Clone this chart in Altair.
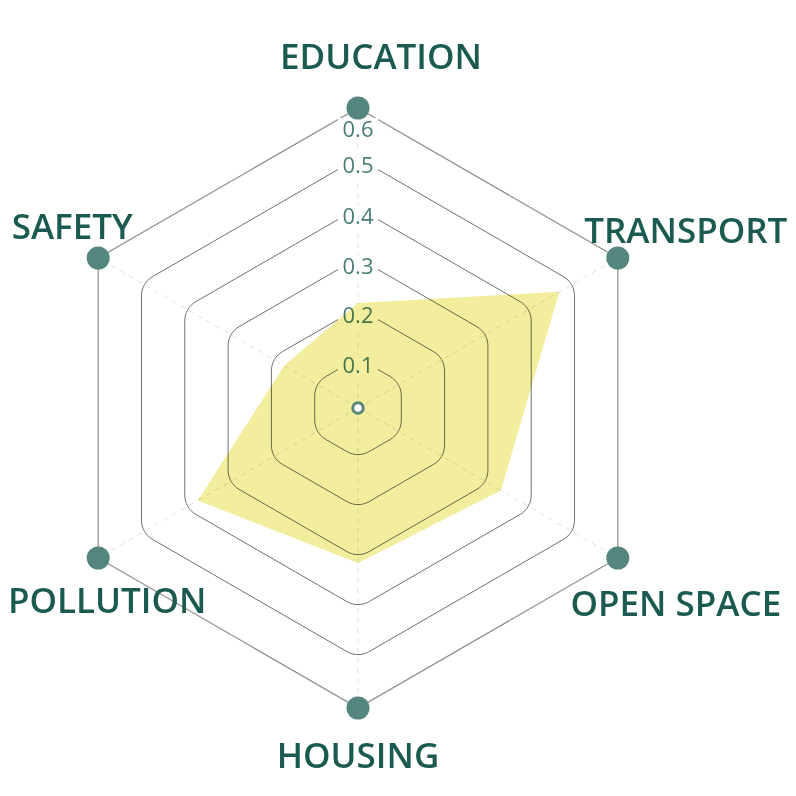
import altair as alt
import pandas as pd
import numpy as np

# ---- data ----
categories = ["EDUCATION", "TRANSPORT", "OPEN SPACE", "HOUSING", "POLLUTION", "SAFETY"]
values = [0.21, 0.465, 0.33, 0.31, 0.37, 0.17]
ticks = [0.1, 0.2, 0.3, 0.4, 0.5, 0.6]
tick_labels = ["0.1", "0.2", "0.3", "0.4", "0.5", "0.6"]

# ---- style / layout ----
angles_deg = [90, 30, -30, -90, -150, 150]
PX = 500.0                      # pixels per unit
label_off_px = [(23, -50), (68, -26), (58, 47), (0, 49), (9, 44), (-26, -30)]
tick_nudge_px = [8, 8, 9, 9, 8, 22]
corner_px = 22
TEAL = "#54867f"
DARK = "#1b5a50"
TICK = "#4b7d77"

W, H = 780, 780
xdom = [-350 / PX, 430 / PX]
ydom = [-380 / PX, 400 / PX]
xs = alt.Scale(domain=xdom)
ys = alt.Scale(domain=ydom)
ang = np.radians(angles_deg)
rmax = max(ticks)


def X(f="x"):
    return alt.X(f"{f}:Q", scale=xs, axis=None)


def Y(f="y"):
    return alt.Y(f"{f}:Q", scale=ys, axis=None)


# rounded hexagon rings
rc = corner_px / PX
rows = []
for ti, R in enumerate(ticks):
    k = 0
    if R >= rmax - 1e-9:
        for j in list(range(6)) + [0]:
            rows.append(dict(ring=ti, o=k, x=R * np.cos(ang[j]), y=R * np.sin(ang[j]), outer=1))
            k += 1
        continue
    order_idx = list(range(6)) + [0]
    for j in order_idx:
        a = ang[j]
        cd = R - rc / np.sin(np.radians(60))
        cx, cy = cd * np.cos(a), cd * np.sin(a)
        for phi in np.linspace(a + np.radians(30), a - np.radians(30), 9):
            rows.append(dict(ring=ti, o=k, x=cx + rc * np.cos(phi), y=cy + rc * np.sin(phi), outer=0))
            k += 1
rings = pd.DataFrame(rows)

spokes = pd.DataFrame(
    [dict(s=i, o=0, x=0.0, y=0.0) for i in range(6)]
    + [dict(s=i, o=1, x=rmax * np.cos(ang[i]), y=rmax * np.sin(ang[i])) for i in range(6)]
)

tl = pd.DataFrame(dict(
    label=tick_labels,
    x=[0.0] * len(ticks),
    y=[t - n / PX for t, n in zip(ticks, tick_nudge_px)],
))
tl["x1"] = -20 / PX
tl["x2"] = 20 / PX
tl["y1"] = tl["y"] - 12 / PX
tl["y2"] = tl["y"] + 12 / PX

poly = pd.DataFrame(dict(
    o=list(range(7)),
    x=[values[i % 6] * np.cos(ang[i % 6]) for i in range(7)],
    y=[values[i % 6] * np.sin(ang[i % 6]) for i in range(7)],
))

dots = pd.DataFrame(dict(cat=categories, x=rmax * np.cos(ang), y=rmax * np.sin(ang)))
labs = pd.DataFrame(dict(
    cat=categories,
    x=[rmax * np.cos(ang[i]) + label_off_px[i][0] / PX for i in range(6)],
    y=[rmax * np.sin(ang[i]) - label_off_px[i][1] / PX for i in range(6)],
))
center = pd.DataFrame(dict(x=[0.0], y=[0.0]))

spoke_layer = alt.Chart(spokes).mark_line(color="#e2e2e2", strokeWidth=1, strokeDash=[5, 5]).encode(
    x=X(), y=Y(), detail="s:N", order="o:Q")
ring_layer = alt.Chart(rings).transform_filter("datum.outer == 0").mark_line(
    color="#6f6f6f", strokeWidth=1).encode(x=X(), y=Y(), detail="ring:N", order="o:Q")
outer_layer = alt.Chart(rings).transform_filter("datum.outer == 1").mark_line(
    color="#8a8a8a", strokeWidth=1.2).encode(x=X(), y=Y(), detail="ring:N", order="o:Q")
rect_layer = alt.Chart(tl).mark_rect(color="white").encode(
    x=alt.X("x1:Q", scale=xs, axis=None), x2="x2:Q",
    y=alt.Y("y1:Q", scale=ys, axis=None), y2="y2:Q")
tick_layer = alt.Chart(tl).mark_text(
    font="Open Sans", fontSize=22, color=TICK, align="center", baseline="middle").encode(
    x=X(), y=Y(), text="label:N")
poly_layer = alt.Chart(poly).mark_line(
    fill="#f2ee9e", strokeOpacity=0, blend="multiply").encode(x=X(), y=Y(), order="o:Q")
dot_layer = alt.Chart(dots).mark_circle(color=TEAL, opacity=1, size=530).encode(x=X(), y=Y())
center_layer = alt.Chart(center).mark_point(
    shape="circle", filled=False, fill="white", stroke=TEAL, strokeWidth=3, size=110, opacity=1).encode(
    x=X(), y=Y())
lab_layer = alt.Chart(labs).mark_text(
    font="Open Sans", fontSize=35, fontWeight=600, color=DARK, align="center", baseline="middle").encode(
    x=X(), y=Y(), text="cat:N")

chart = alt.layer(
    spoke_layer, ring_layer, outer_layer, rect_layer, tick_layer, poly_layer,
    dot_layer, center_layer, lab_layer
).properties(
    width=W, height=H, autosize=alt.AutoSizeParams(type="none"), padding=0
).configure_view(stroke=None)

chart.save("out.html", embed_options={"renderer": "svg", "actions": False})
